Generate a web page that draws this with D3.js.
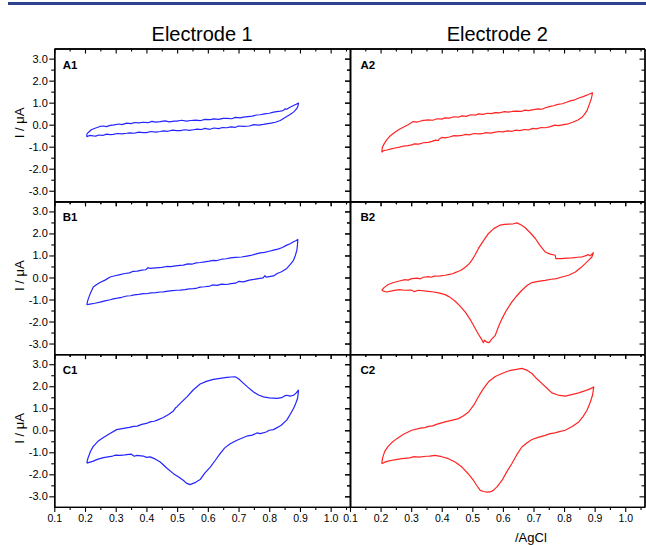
<!DOCTYPE html>
<html>
<head>
<meta charset="utf-8">
<script src="https://cdn.jsdelivr.net/npm/d3@7"></script>
<style>
	body {margin: 0; background: #fff;}
	svg {display: block;}
</style>
</head>
<body>
<div id="món"></div>
<script>
// textos
const columnes = ['Electrode 1', 'Electrode 2'];
const etiquetes = [['A1', 'A2'], ['B1', 'B2'], ['C1', 'C2']];
const titolY = 'I / μA';
const titolX = '/AgCl';

// tics
const ticsX = [0.1, 0.2, 0.3, 0.4, 0.5, 0.6, 0.7, 0.8, 0.9, 1.0];
const ticsXmenors = [0.15, 0.25, 0.35, 0.45, 0.55, 0.65, 0.75, 0.85, 0.95, 1.05];
const ticsY = [-3, -2, -1, 0, 1, 2, 3];
const ticsYmenors = [-2.5, -1.5, -0.5, 0.5, 1.5, 2.5];

// voltammogrames: [E (V), I (µA)], anada i tornada
const a1Anada = [[0.206,-0.42],[0.215,-0.30],[0.222,-0.22],[0.235,-0.15],[0.249,-0.08],[0.26,-0.06],[0.27,-0.09],[0.282,-0.03],[0.295,-0.01],[0.31,0.03],[0.32,0.0],[0.336,0.07],[0.35,0.05],[0.362,0.10],[0.375,0.08],[0.39,0.11],[0.405,0.09],[0.418,0.15],[0.43,0.12],[0.445,0.14],[0.46,0.17],[0.475,0.13],[0.49,0.16],[0.499,0.16],[0.515,0.20],[0.53,0.16],[0.545,0.19],[0.56,0.21],[0.575,0.18],[0.59,0.24],[0.607,0.23],[0.62,0.26],[0.635,0.24],[0.65,0.29],[0.662,0.29],[0.678,0.27],[0.69,0.33],[0.705,0.31],[0.716,0.34],[0.73,0.37],[0.745,0.39],[0.758,0.44],[0.77,0.45],[0.785,0.49],[0.8,0.52],[0.814,0.57],[0.83,0.60],[0.845,0.64],[0.852,0.72],[0.857,0.70],[0.866,0.78],[0.879,0.87],[0.888,0.93],[0.895,0.98]];
const a1Tornada = [[0.895,0.98],[0.894,0.88],[0.892,0.79],[0.886,0.67],[0.879,0.57],[0.868,0.46],[0.857,0.37],[0.845,0.27],[0.836,0.19],[0.82,0.11],[0.806,0.07],[0.795,0.05],[0.781,0.01],[0.765,-0.02],[0.75,0.0],[0.735,-0.06],[0.716,-0.08],[0.70,-0.06],[0.69,-0.12],[0.675,-0.10],[0.662,-0.14],[0.648,-0.13],[0.635,-0.18],[0.62,-0.15],[0.607,-0.21],[0.59,-0.17],[0.58,-0.22],[0.565,-0.20],[0.553,-0.23],[0.54,-0.26],[0.525,-0.23],[0.51,-0.27],[0.499,-0.27],[0.485,-0.25],[0.47,-0.30],[0.455,-0.28],[0.445,-0.31],[0.43,-0.34],[0.415,-0.31],[0.40,-0.36],[0.39,-0.36],[0.375,-0.34],[0.36,-0.39],[0.345,-0.37],[0.336,-0.39],[0.32,-0.42],[0.305,-0.40],[0.292,-0.44],[0.282,-0.45],[0.27,-0.43],[0.258,-0.49],[0.245,-0.47],[0.235,-0.52],[0.227,-0.51],[0.215,-0.49],[0.206,-0.54],[0.206,-0.42]];

const a2Anada = [[0.204,-1.25],[0.205,-1.12],[0.206,-1.03],[0.212,-0.86],[0.22,-0.69],[0.232,-0.50],[0.247,-0.34],[0.26,-0.22],[0.274,-0.12],[0.29,0.0],[0.307,0.14],[0.32,0.12],[0.335,0.18],[0.356,0.22],[0.37,0.20],[0.385,0.27],[0.40,0.25],[0.411,0.31],[0.425,0.30],[0.44,0.36],[0.455,0.34],[0.466,0.40],[0.48,0.38],[0.495,0.45],[0.51,0.43],[0.52,0.49],[0.535,0.47],[0.55,0.52],[0.562,0.50],[0.575,0.55],[0.59,0.54],[0.605,0.59],[0.618,0.57],[0.63,0.60],[0.645,0.62],[0.66,0.60],[0.672,0.66],[0.684,0.64],[0.70,0.68],[0.715,0.72],[0.728,0.70],[0.739,0.77],[0.752,0.82],[0.765,0.86],[0.78,0.92],[0.794,0.95],[0.808,1.02],[0.82,1.08],[0.835,1.13],[0.848,1.21],[0.86,1.26],[0.87,1.32],[0.88,1.37],[0.893,1.45]];
const a2Tornada = [[0.893,1.45],[0.891,1.30],[0.889,1.18],[0.882,0.90],[0.875,0.64],[0.866,0.46],[0.859,0.34],[0.845,0.21],[0.83,0.12],[0.814,0.04],[0.798,0.0],[0.781,-0.04],[0.77,-0.02],[0.755,-0.09],[0.739,-0.14],[0.725,-0.13],[0.71,-0.19],[0.697,-0.17],[0.684,-0.24],[0.67,-0.22],[0.655,-0.27],[0.642,-0.25],[0.63,-0.30],[0.615,-0.28],[0.6,-0.33],[0.588,-0.31],[0.575,-0.34],[0.56,-0.38],[0.545,-0.36],[0.532,-0.41],[0.52,-0.42],[0.505,-0.40],[0.49,-0.46],[0.478,-0.44],[0.466,-0.49],[0.452,-0.51],[0.44,-0.50],[0.425,-0.56],[0.411,-0.60],[0.40,-0.58],[0.392,-0.65],[0.389,-0.72],[0.38,-0.70],[0.368,-0.76],[0.356,-0.80],[0.34,-0.82],[0.325,-0.88],[0.31,-0.87],[0.302,-0.92],[0.29,-0.95],[0.275,-0.97],[0.262,-1.02],[0.247,-1.06],[0.235,-1.10],[0.22,-1.15],[0.21,-1.18],[0.204,-1.25]];

const b1Anada = [[0.206,-1.24],[0.208,-1.10],[0.211,-0.96],[0.218,-0.70],[0.227,-0.43],[0.238,-0.32],[0.249,-0.23],[0.265,-0.12],[0.282,0.02],[0.298,0.08],[0.314,0.13],[0.33,0.18],[0.345,0.21],[0.357,0.28],[0.37,0.29],[0.385,0.33],[0.398,0.35],[0.405,0.45],[0.412,0.41],[0.43,0.44],[0.45,0.46],[0.466,0.50],[0.48,0.49],[0.495,0.53],[0.51,0.55],[0.52,0.56],[0.535,0.62],[0.55,0.61],[0.562,0.66],[0.575,0.68],[0.59,0.71],[0.605,0.74],[0.618,0.78],[0.63,0.77],[0.645,0.83],[0.66,0.85],[0.673,0.89],[0.69,0.91],[0.71,0.93],[0.727,0.97],[0.74,1.0],[0.755,1.06],[0.77,1.12],[0.785,1.14],[0.8,1.19],[0.814,1.24],[0.828,1.29],[0.843,1.36],[0.857,1.47],[0.868,1.53],[0.879,1.62],[0.888,1.68],[0.893,1.73]];
const b1Tornada = [[0.893,1.73],[0.892,1.50],[0.89,1.24],[0.885,1.0],[0.879,0.78],[0.868,0.58],[0.857,0.41],[0.84,0.26],[0.826,0.18],[0.814,0.07],[0.8,0.04],[0.79,0.02],[0.786,0.08],[0.78,-0.02],[0.765,-0.05],[0.75,-0.09],[0.735,-0.12],[0.716,-0.20],[0.70,-0.18],[0.69,-0.26],[0.675,-0.28],[0.662,-0.32],[0.645,-0.30],[0.63,-0.36],[0.615,-0.34],[0.607,-0.39],[0.59,-0.42],[0.575,-0.44],[0.565,-0.48],[0.553,-0.51],[0.54,-0.52],[0.525,-0.55],[0.51,-0.57],[0.499,-0.58],[0.485,-0.60],[0.47,-0.62],[0.455,-0.65],[0.445,-0.66],[0.43,-0.69],[0.415,-0.70],[0.40,-0.74],[0.39,-0.73],[0.375,-0.77],[0.36,-0.79],[0.348,-0.83],[0.336,-0.84],[0.32,-0.90],[0.305,-0.94],[0.292,-0.97],[0.282,-1.01],[0.265,-1.06],[0.249,-1.12],[0.232,-1.17],[0.216,-1.21],[0.206,-1.24]];

const b2Anada = [[0.204,-0.58],[0.212,-0.45],[0.225,-0.32],[0.24,-0.24],[0.258,-0.17],[0.28,-0.10],[0.29,-0.12],[0.302,-0.05],[0.32,-0.03],[0.33,-0.06],[0.34,0.01],[0.356,0.04],[0.365,0.01],[0.375,0.06],[0.395,0.07],[0.411,0.10],[0.425,0.14],[0.435,0.17],[0.444,0.22],[0.455,0.28],[0.463,0.33],[0.471,0.41],[0.48,0.50],[0.49,0.63],[0.498,0.78],[0.508,1.0],[0.52,1.32],[0.535,1.64],[0.553,2.0],[0.57,2.22],[0.591,2.38],[0.605,2.41],[0.618,2.42],[0.632,2.43],[0.646,2.48],[0.66,2.38],[0.673,2.26],[0.69,2.02],[0.706,1.77],[0.72,1.48],[0.738,1.16],[0.755,1.06],[0.771,1.01],[0.773,0.86],[0.79,0.86],[0.81,0.88],[0.826,0.89],[0.845,0.92],[0.86,0.94],[0.869,0.98],[0.88,1.04],[0.885,0.98],[0.896,1.13]];
const b2Tornada = [[0.896,1.13],[0.891,0.93],[0.88,0.78],[0.869,0.63],[0.855,0.45],[0.837,0.25],[0.815,0.10],[0.793,0.02],[0.775,-0.05],[0.758,-0.08],[0.738,-0.13],[0.715,-0.18],[0.695,-0.23],[0.68,-0.35],[0.662,-0.58],[0.645,-0.84],[0.629,-1.12],[0.612,-1.48],[0.597,-1.87],[0.585,-2.25],[0.575,-2.63],[0.565,-2.78],[0.562,-2.82],[0.555,-2.96],[0.548,-2.94],[0.54,-2.85],[0.536,-2.96],[0.531,-2.82],[0.52,-2.58],[0.51,-2.33],[0.495,-1.95],[0.477,-1.57],[0.46,-1.30],[0.444,-1.08],[0.425,-0.88],[0.411,-0.78],[0.39,-0.70],[0.373,-0.66],[0.35,-0.62],[0.324,-0.58],[0.31,-0.64],[0.3,-0.57],[0.28,-0.58],[0.26,-0.55],[0.237,-0.61],[0.22,-0.66],[0.21,-0.62],[0.204,-0.58]];

const c1Anada = [[0.206,-1.49],[0.208,-1.35],[0.211,-1.21],[0.218,-0.95],[0.227,-0.73],[0.242,-0.50],[0.26,-0.33],[0.28,-0.16],[0.303,0.03],[0.33,0.10],[0.345,0.13],[0.358,0.18],[0.37,0.19],[0.385,0.27],[0.4,0.31],[0.412,0.38],[0.425,0.41],[0.435,0.46],[0.455,0.58],[0.472,0.72],[0.488,0.88],[0.495,1.02],[0.499,1.06],[0.51,1.22],[0.532,1.52],[0.553,1.84],[0.575,2.10],[0.595,2.22],[0.618,2.31],[0.64,2.36],[0.662,2.40],[0.675,2.42],[0.689,2.43],[0.70,2.34],[0.711,2.20],[0.73,1.96],[0.749,1.74],[0.765,1.60],[0.781,1.52],[0.8,1.47],[0.825,1.45],[0.84,1.48],[0.85,1.56],[0.857,1.59],[0.868,1.55],[0.879,1.59],[0.888,1.70],[0.895,1.82]];
const c1Tornada = [[0.895,1.82],[0.894,1.62],[0.892,1.44],[0.886,1.21],[0.879,0.99],[0.868,0.72],[0.857,0.46],[0.838,0.22],[0.814,0.03],[0.8,0.0],[0.79,-0.08],[0.771,-0.15],[0.76,-0.12],[0.745,-0.22],[0.73,-0.25],[0.716,-0.33],[0.695,-0.45],[0.673,-0.61],[0.655,-0.80],[0.64,-1.06],[0.625,-1.35],[0.608,-1.67],[0.59,-1.95],[0.575,-2.24],[0.558,-2.38],[0.542,-2.47],[0.53,-2.40],[0.521,-2.28],[0.505,-2.12],[0.488,-1.97],[0.465,-1.70],[0.445,-1.44],[0.428,-1.30],[0.412,-1.21],[0.4,-1.23],[0.39,-1.17],[0.369,-1.14],[0.36,-1.18],[0.35,-1.08],[0.33,-1.12],[0.314,-1.14],[0.3,-1.13],[0.29,-1.17],[0.26,-1.24],[0.24,-1.32],[0.227,-1.40],[0.206,-1.49]];

const c2Anada = [[0.204,-1.52],[0.206,-1.30],[0.209,-1.14],[0.215,-0.92],[0.225,-0.73],[0.238,-0.54],[0.253,-0.38],[0.275,-0.18],[0.302,0.0],[0.33,0.10],[0.345,0.12],[0.356,0.18],[0.37,0.20],[0.385,0.28],[0.411,0.38],[0.435,0.46],[0.455,0.53],[0.47,0.65],[0.488,0.83],[0.505,1.15],[0.52,1.52],[0.535,1.87],[0.553,2.20],[0.575,2.44],[0.597,2.58],[0.615,2.68],[0.629,2.73],[0.645,2.77],[0.662,2.81],[0.68,2.72],[0.695,2.58],[0.71,2.35],[0.727,2.13],[0.745,1.90],[0.76,1.70],[0.78,1.60],[0.804,1.55],[0.825,1.62],[0.848,1.70],[0.87,1.80],[0.885,1.88],[0.897,1.97]];
const c2Tornada = [[0.897,1.97],[0.895,1.78],[0.893,1.59],[0.885,1.25],[0.875,0.91],[0.862,0.62],[0.848,0.38],[0.828,0.18],[0.804,0.0],[0.785,-0.06],[0.77,-0.12],[0.755,-0.15],[0.738,-0.23],[0.715,-0.32],[0.695,-0.42],[0.678,-0.58],[0.662,-0.76],[0.645,-1.12],[0.629,-1.52],[0.612,-1.90],[0.597,-2.28],[0.582,-2.55],[0.569,-2.73],[0.558,-2.80],[0.548,-2.81],[0.537,-2.78],[0.526,-2.73],[0.515,-2.52],[0.504,-2.28],[0.485,-1.95],[0.466,-1.67],[0.445,-1.45],[0.422,-1.29],[0.4,-1.20],[0.378,-1.14],[0.36,-1.17],[0.35,-1.18],[0.324,-1.22],[0.31,-1.20],[0.295,-1.25],[0.269,-1.29],[0.245,-1.34],[0.225,-1.40],[0.212,-1.46],[0.204,-1.52]];

const corbes = [
	[a1Anada.concat(a1Tornada), a2Anada.concat(a2Tornada)],
	[b1Anada.concat(b1Tornada), b2Anada.concat(b2Tornada)],
	[c1Anada.concat(c1Tornada), c2Anada.concat(c2Tornada)]
];

const Amplada = 646, Alçada = 545;
const dalt = 48.5;
const altPanell = 152.8;
const colX = [[54.3, 350], [350, 644.5]];
const colors = ['#2424ff', '#ff2424'];
const lletra = '"Liberation Sans", Arial, sans-serif';

const svg = d3.select('#món')
	.append('svg')
		.attr('width', Amplada)
		.attr('height', Alçada);

// ratlla blava de dalt
svg.append('rect')
	.attr('x', 8).attr('y', 2)
	.attr('width', Amplada - 8).attr('height', 3)
	.attr('fill', '#2f4191');

columnes.forEach((t, c) => {
	svg.append('text')
		.attr('x', (colX[c][0] + colX[c][1]) / 2)
		.attr('y', 41)
		.attr('text-anchor', 'middle')
		.style('font-family', lletra)
		.style('font-size', '20px')
		.text(t);
});

function eixos(g, eix, nets) {
	g.call(eix);
	g.select('.domain').attr('stroke-width', 1.3);
	g.selectAll('.tick line').attr('stroke-width', 1.1);
	g.selectAll('text').style('font-family', lletra).attr('fill', '#000');
	if (nets) g.selectAll('text').remove();
}

for (let f = 0; f < 3; f++) {
	const y0 = dalt + f * altPanell;
	const y = d3.scaleLinear().domain([-3.48, 3.46]).range([y0 + altPanell, y0]);
	for (let c = 0; c < 2; c++) {
		const x = d3.scaleLinear().domain([0.1, 1.063]).range(colX[c]);
		const linia = d3.line().x(d => x(d[0])).y(d => y(d[1]));

		svg.append('path')
			.datum(corbes[f][c])
			.attr('d', linia)
			.attr('fill', 'none')
			.attr('stroke', colors[c])
			.attr('stroke-width', 1.2)
			.attr('stroke-linejoin', 'round');

		// tics menors
		[y0, y0 + altPanell].forEach(yy => {
			svg.append('g').attr('transform', `translate(0,${yy})`)
				.call(g => eixos(g, d3.axisBottom(x).tickValues(ticsXmenors).tickSize(3).tickSizeOuter(0), true));
		});
		[colX[c][0], colX[c][1]].forEach(xx => {
			svg.append('g').attr('transform', `translate(${xx},0)`)
				.call(g => eixos(g, d3.axisLeft(y).tickValues(ticsYmenors).tickSize(3).tickSizeOuter(0), true));
		});

		// tics majors
		svg.append('g').attr('transform', `translate(0,${y0})`)
			.call(g => eixos(g, d3.axisBottom(x).tickValues(ticsX).tickSize(5).tickSizeOuter(0), true));
		const baix = svg.append('g').attr('transform', `translate(0,${y0 + altPanell})`);
		eixos(baix, d3.axisBottom(x).tickValues(ticsX).tickSize(5).tickSizeOuter(0)
			.tickPadding(3).tickFormat(d => d.toFixed(1)), f < 2);
		baix.selectAll('text').style('font-size', '10.5px');

		const esq = svg.append('g').attr('transform', `translate(${colX[c][0]},0)`);
		eixos(esq, d3.axisLeft(y).tickValues(ticsY).tickSize(5).tickSizeOuter(0)
			.tickPadding(1.5).tickFormat(d => d.toFixed(1)), c > 0);
		esq.selectAll('text').style('font-size', '11px');
		svg.append('g').attr('transform', `translate(${colX[c][1]},0)`)
			.call(g => eixos(g, d3.axisLeft(y).tickValues(ticsY).tickSize(5).tickSizeOuter(0), true));

		svg.append('text')
			.attr('x', colX[c][0] + (c ? 10.5 : 8.5))
			.attr('y', y0 + 20)
			.style('font-family', lletra)
			.style('font-size', '11.5px')
			.style('font-weight', 'bold')
			.text(etiquetes[f][c]);
	}
	svg.append('text')
		.attr('transform', `translate(23.5,${y0 + altPanell / 2 - 2}) rotate(-90)`)
		.attr('text-anchor', 'middle')
		.style('font-family', lletra)
		.style('font-size', '13px')
		.text(titolY);
}

svg.append('text')
	.attr('x', 515)
	.attr('y', 541.5)
	.style('font-family', lletra)
	.style('font-size', '13px')
	.text(titolX);
</script>
</body>
</html>
